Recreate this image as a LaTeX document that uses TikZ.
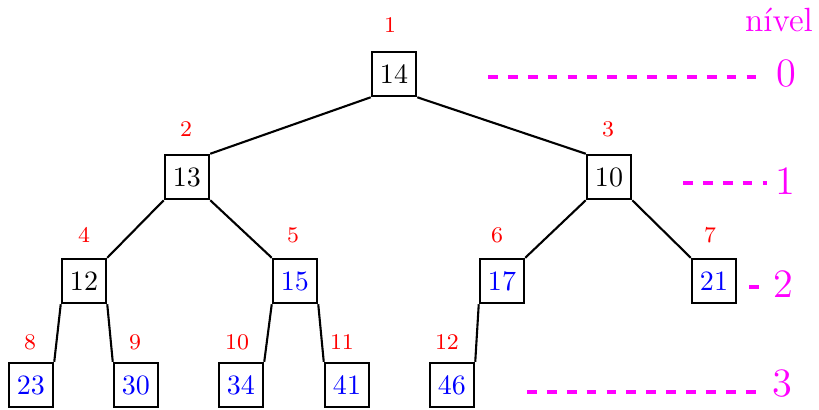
\documentclass[tikz,border=0pt]{standalone}
\usetikzlibrary{positioning}
\definecolor{idxred}{RGB}{255,0,0}
\definecolor{lvlmag}{RGB}{255,0,255}
\definecolor{valblue}{RGB}{0,0,255}
\tikzset{
  heapbox/.style={draw, line width=0.9pt, minimum size=15.7pt, inner sep=0pt, font=\normalsize},
  blueval/.style={heapbox, text=valblue},
  idx/.style={text=idxred, font=\footnotesize, inner sep=0pt},
  edge/.style={line width=0.75pt},
  lvl/.style={draw=lvlmag, line width=1.1pt, dash pattern=on 3.5pt off 3.6pt},
  lvltxt/.style={text=lvlmag, font=\Large, inner sep=0pt}
}
\begin{document}
\begin{tikzpicture}[x=0.357pt, y=-0.357pt]
\useasboundingbox (0,0) rectangle (819,409);
% nodes
\node[heapbox] (n1) at (394,74) {14};
\node[heapbox] (n2) at (187,177) {13};
\node[heapbox] (n3) at (609,177) {10};
\node[heapbox] (n4) at (84,281) {12};
\node[blueval] (n5) at (295,281) {15};
\node[blueval] (n6) at (502,281) {17};
\node[blueval] (n7) at (714,281) {21};
\node[blueval] (n8) at (31,385) {23};
\node[blueval] (n9) at (136,385) {30};
\node[blueval] (n10) at (241,385) {34};
\node[blueval] (n11) at (347,385) {41};
\node[blueval] (n12) at (452,385) {46};
% indices
\node[idx] (i1) at (390,25) {1};
\node[idx] (i2) at (186,129) {2};
\node[idx] (i3) at (608,129) {3};
\node[idx] (i4) at (84,235) {4};
\node[idx] (i5) at (293,235) {5};
\node[idx] (i6) at (497,235) {6};
\node[idx] (i7) at (710,235) {7};
\node[idx] (i8) at (30,342) {8};
\node[idx] (i9) at (135,342) {9};
\node[idx] (i10) at (237,342) {10};
\node[idx] (i11) at (342,342) {11};
\node[idx] (i12) at (447,342) {12};
% edges
\draw[edge] (n1.south west) -- (n2.north east);
\draw[edge] (n1.south east) -- (n3.north west);
\draw[edge] (n2.south west) -- (n4.north east);
\draw[edge] (n2.south east) -- (n5.north west);
\draw[edge] (n3.south west) -- (n6.north east);
\draw[edge] (n3.south east) -- (n7.north west);
\draw[edge] (n4.south west) -- (n8.north east);
\draw[edge] (n4.south east) -- (n9.north west);
\draw[edge] (n5.south west) -- (n10.north east);
\draw[edge] (n5.south east) -- (n11.north west);
\draw[edge] (n6.south west) -- (n12.north east);
% levels
\node[text=lvlmag, font=\large, inner sep=0pt] (lvlhead) at (779,20) {n\'{\i}vel};
\coordinate (d0a) at (488,77); \coordinate (d0b) at (760,77);
\coordinate (d1a) at (683,183); \coordinate (d1b) at (767,183);
\coordinate (d2a) at (749,287); \coordinate (d2b) at (761,287);
\coordinate (d3a) at (527,392); \coordinate (d3b) at (760,392);
\draw[lvl] (d0a) -- (d0b);
\draw[lvl] (d1a) -- (d1b);
\draw[lvl] (d2a) -- (d2b);
\draw[lvl] (d3a) -- (d3b);
\node[lvltxt] (l0) at (786,73) {0};
\node[lvltxt] (l1) at (785,181) {1};
\node[lvltxt] (l2) at (783,284) {2};
\node[lvltxt] (l3) at (782,383) {3};
\end{tikzpicture}
\end{document}
